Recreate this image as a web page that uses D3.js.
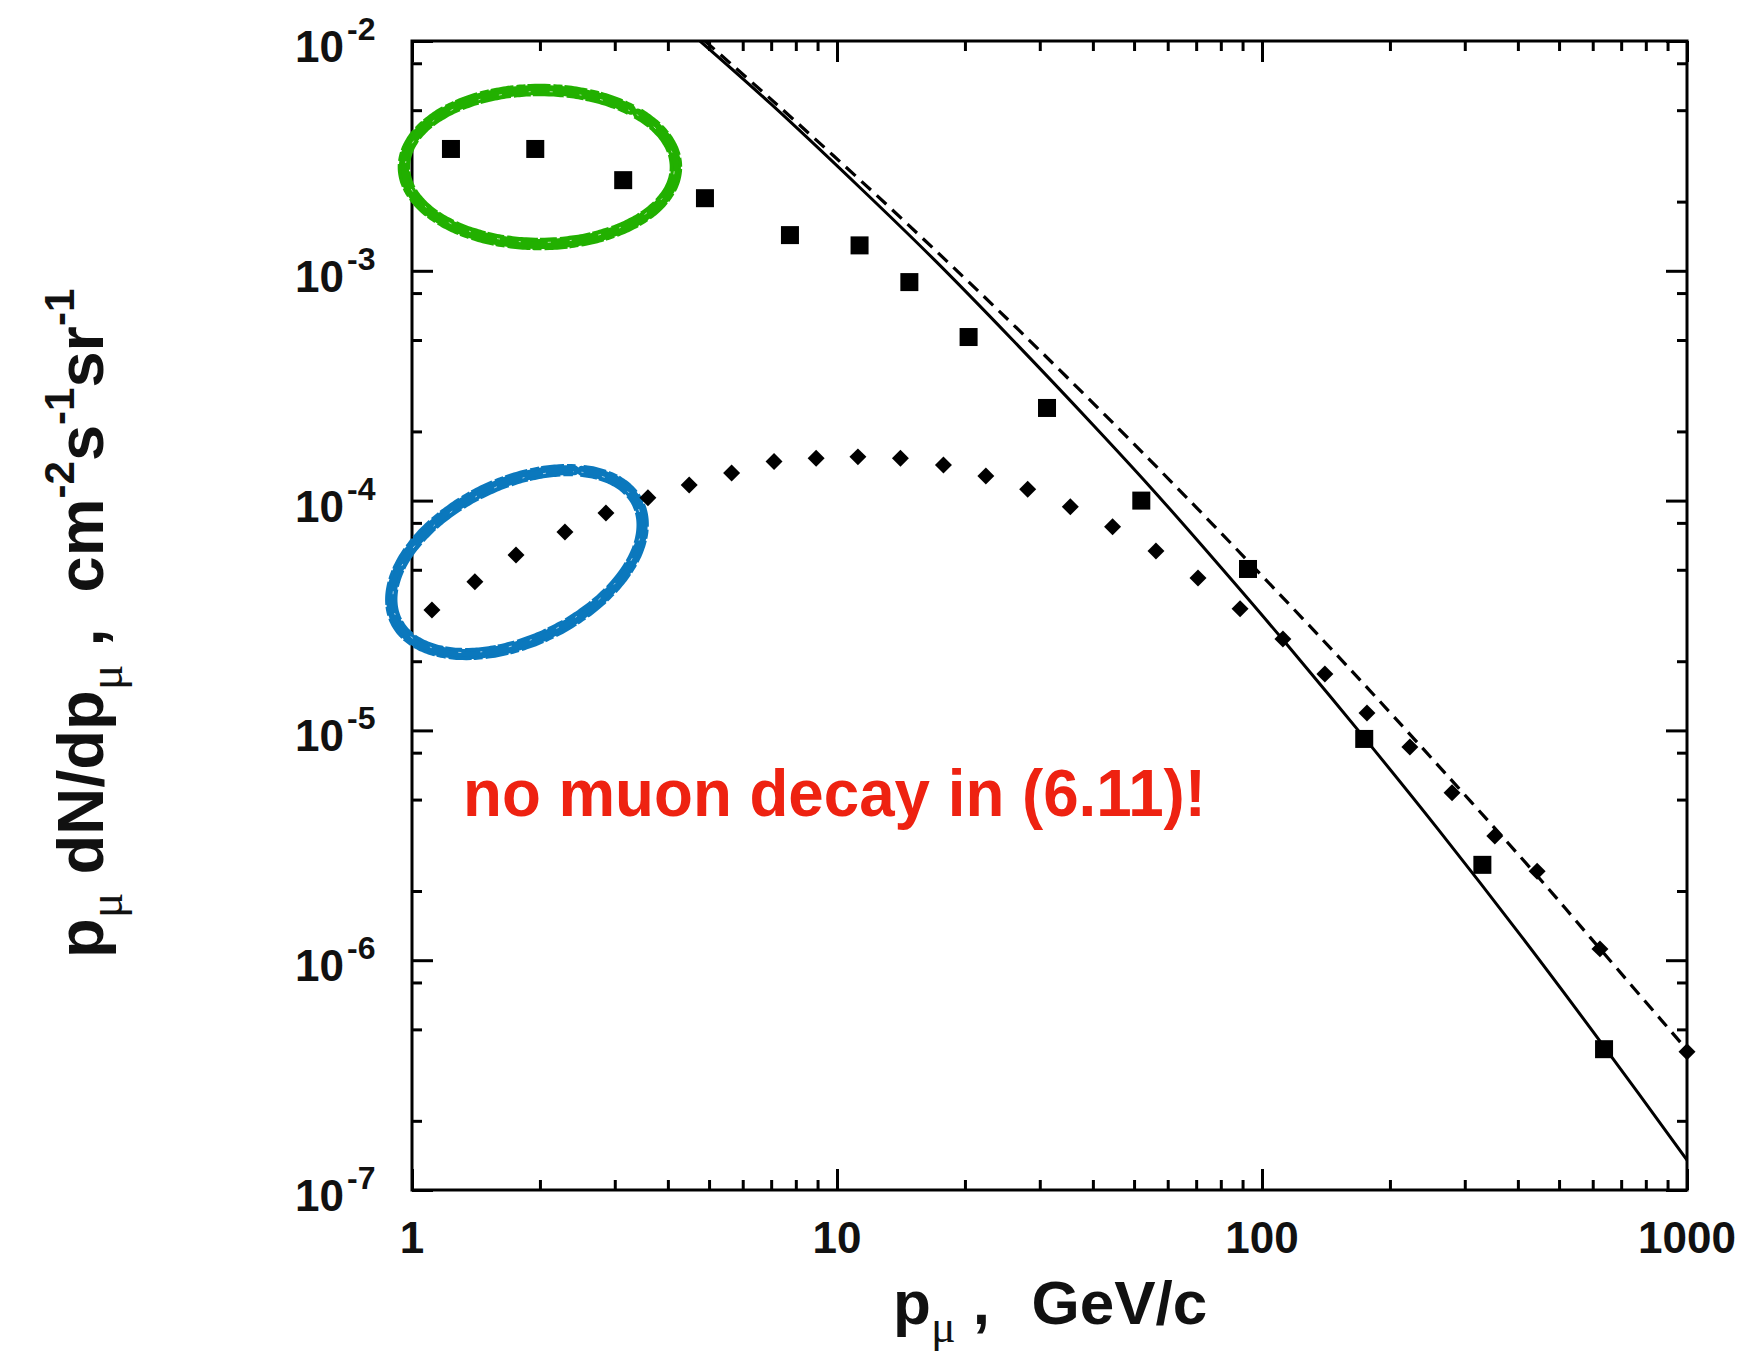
<!DOCTYPE html>
<html><head><meta charset="utf-8">
<script src="https://cdn.jsdelivr.net/npm/d3@7"></script>
<style>
body{margin:0;background:#fff}
svg text{font-family:"Liberation Sans",Arial,Helvetica,sans-serif}
</style>
</head><body>
<svg id="chart" width="1746" height="1351"></svg>
<script>
// ---------- data ----------
const xTickValues = [1, 10, 100, 1000];
const xTickLabels = ["1", "10", "100", "1000"];
const yTickValues = [1e-2, 1e-3, 1e-4, 1e-5, 1e-6, 1e-7];
const yTickExponents = ["-2", "-3", "-4", "-5", "-6", "-7"];

// measured spectrum (squares)
const squareP    = [1.235, 1.95, 3.14, 4.89, 7.75, 11.3, 14.8, 20.4, 31.2, 52.0, 92.7, 174, 330, 638];
const squareFlux = [3.39e-3, 3.39e-3, 2.48e-3, 2.07e-3, 1.43e-3, 1.29e-3, 8.93e-4, 5.15e-4, 2.53e-4, 1.0e-4, 5.04e-5, 9.18e-6, 2.6e-6, 4.1e-7];

// calculated spectrum (diamonds)
const diamondP    = [1.114, 1.406, 1.757, 2.29, 2.86, 3.59, 4.49, 5.65, 7.11, 8.93, 11.2, 14.1, 17.8, 22.4, 28.1, 35.4, 44.5, 56.3, 70.7, 88.8, 112, 140.6, 176.6, 222.8, 280, 353, 444, 624, 1000];
const diamondFlux = [3.34e-5, 4.43e-5, 5.8e-5, 7.3e-5, 8.83e-5, 1.03e-4, 1.17e-4, 1.32e-4, 1.48e-4, 1.53e-4, 1.55e-4, 1.53e-4, 1.43e-4, 1.28e-4, 1.12e-4, 9.4e-5, 7.7e-5, 6.04e-5, 4.6e-5, 3.38e-5, 2.5e-5, 1.76e-5, 1.19e-5, 8.47e-6, 5.35e-6, 3.47e-6, 2.44e-6, 1.12e-6, 4.0e-7];

// solid curve
const solidP    = [4.76, 7.0, 11.3, 17.0, 25.9, 40, 54.5, 80, 111.4, 172.8, 260, 409, 638, 1000];
const solidFlux = [1e-2, 5.31e-3, 2.31e-3, 1.11e-3, 5.0e-4, 2.14e-4, 1.15e-4, 5.13e-5, 2.51e-5, 9.44e-6, 3.70e-6, 1.26e-6, 4.21e-7, 1.35e-7];

// dashed curve
const dashedP    = [4.89, 7.0, 12.1, 20, 30, 54.5, 92.2, 150, 229, 444, 591, 1000];
const dashedFlux = [1e-2, 5.57e-3, 2.22e-3, 9.27e-4, 4.5e-4, 1.5e-4, 5.51e-5, 2.13e-5, 9.1e-6, 2.33e-6, 1.26e-6, 4.07e-7];

const annotationText = "no muon decay in (6.11)!";
// hand-drawn ellipse centres, in data coordinates
const greenCentre = [2.0, 2.83e-3];
const blueCentre  = [1.766, 5.4e-5];

// ---------- drawing ----------
const L = 412, R = 1687, T = 41, B = 1190;
const svg = d3.select("#chart");
const x = d3.scaleLog().domain([1, 1000]).range([L, R]);
const y = d3.scaleLog().domain([1e-7, 1e-2]).range([B, T]);

const xMinor = [];
for (let d = 1; d < 1000; d *= 10) for (let k = 2; k <= 9; k++) xMinor.push(d * k);
const yMinor = [];
for (let d = 1e-7; d < 1e-2 * 0.99; d *= 10) for (const k of [2, 5, 8]) yMinor.push(d * k);

function styleAxis(g) {
  g.select(".domain").remove();
  g.selectAll(".tick line").attr("stroke", "#000").attr("stroke-width", 3);
  g.selectAll(".tick text").remove();
}
const MAJ = 21, MIN = 10;
svg.append("g").attr("transform", `translate(0,${B})`).call(d3.axisBottom(x).tickValues(xTickValues).tickSize(-MAJ)).call(styleAxis);
svg.append("g").attr("transform", `translate(0,${B})`).call(d3.axisBottom(x).tickValues(xMinor).tickSize(-MIN)).call(styleAxis);
svg.append("g").attr("transform", `translate(0,${T})`).call(d3.axisTop(x).tickValues(xTickValues).tickSize(-MAJ)).call(styleAxis);
svg.append("g").attr("transform", `translate(0,${T})`).call(d3.axisTop(x).tickValues(xMinor).tickSize(-MIN)).call(styleAxis);
svg.append("g").attr("transform", `translate(${L},0)`).call(d3.axisLeft(y).tickValues(yTickValues).tickSize(-MAJ)).call(styleAxis);
svg.append("g").attr("transform", `translate(${L},0)`).call(d3.axisLeft(y).tickValues(yMinor).tickSize(-MIN)).call(styleAxis);
svg.append("g").attr("transform", `translate(${R},0)`).call(d3.axisRight(y).tickValues(yTickValues).tickSize(-MAJ)).call(styleAxis);
svg.append("g").attr("transform", `translate(${R},0)`).call(d3.axisRight(y).tickValues(yMinor).tickSize(-MIN)).call(styleAxis);

svg.append("rect").attr("x", L).attr("y", T).attr("width", R - L).attr("height", B - T)
  .attr("fill", "none").attr("stroke", "#000").attr("stroke-width", 3);

// tick labels
svg.append("g").selectAll("text").data(xTickValues).join("text")
  .attr("x", d => x(d)).attr("y", 1253).attr("text-anchor", "middle")
  .attr("font-size", 44).attr("font-weight", "bold").attr("fill", "#111")
  .text((d, i) => xTickLabels[i]);
const yl = svg.append("g").selectAll("g").data(yTickValues).join("g");
yl.append("text").attr("x", 344).attr("y", d => y(d) + 21).attr("text-anchor", "end")
  .attr("font-size", 44).attr("font-weight", "bold").attr("fill", "#111").text("10");
yl.append("text").attr("x", 347).attr("y", d => y(d) - 1).attr("text-anchor", "start")
  .attr("font-size", 32).attr("font-weight", "bold").attr("fill", "#111").text((d, i) => yTickExponents[i]);

// clip
svg.append("clipPath").attr("id", "plotclip").append("rect")
  .attr("x", L).attr("y", T).attr("width", R - L).attr("height", B - T);

const line = d3.line().x(d => x(d[0])).y(d => y(d[1])).curve(d3.curveCatmullRom);
svg.append("path").attr("clip-path", "url(#plotclip)")
  .attr("d", line(solidP.map((p, i) => [p, solidFlux[i]])))
  .attr("fill", "none").attr("stroke", "#000").attr("stroke-width", 3);
svg.append("path").attr("clip-path", "url(#plotclip)")
  .attr("d", line(dashedP.map((p, i) => [p, dashedFlux[i]])))
  .attr("fill", "none").attr("stroke", "#000").attr("stroke-width", 3.2).attr("stroke-dasharray", "13,8");

// hand-drawn ellipses
function ellipsePts(cx, cy, a, b, rotDeg, gapFrom, gapTo) {
  const pts = [], th = rotDeg * Math.PI / 180;
  for (let t = gapTo; t <= gapFrom + 360; t += 2) {
    const r = t * Math.PI / 180;
    const ex = a * Math.cos(r), ey = b * Math.sin(r);
    pts.push([cx + ex * Math.cos(th) - ey * Math.sin(th), cy + ex * Math.sin(th) + ey * Math.cos(th)]);
  }
  return pts;
}
const ell = d3.line().curve(d3.curveCatmullRom);
function sketchEllipse(cx, cy, a, b, rot, g0, g1, colour) {
  const g = svg.append("g");
  g.append("path").attr("d", ell(ellipsePts(cx, cy, a, b, rot, g0, g1)))
    .attr("fill", "none").attr("stroke", colour).attr("stroke-width", 10).attr("stroke-linecap", "round");
  g.append("path").attr("d", ell(ellipsePts(cx, cy, a + 4.5, b + 4.5, rot, g0, g1)))
    .attr("fill", "none").attr("stroke", colour).attr("stroke-width", 3.5).attr("stroke-dasharray", "23,3,9,2");
  g.append("path").attr("d", ell(ellipsePts(cx, cy, a - 4.5, b - 4.5, rot, g0, g1)))
    .attr("fill", "none").attr("stroke", colour).attr("stroke-width", 3.5).attr("stroke-dasharray", "17,2,31,3");
  g.append("path").attr("d", ell(ellipsePts(cx, cy, a - 1.5, b - 1.5, rot, g0, g1)))
    .attr("fill", "none").attr("stroke", "#fff").attr("stroke-width", 0.8).attr("stroke-dasharray", "2,19,3,27").attr("opacity", 0.8);
}
sketchEllipse(x(greenCentre[0]), y(greenCentre[1]), 136, 77, 0, -47, -44, "#22b000");
sketchEllipse(x(blueCentre[0]), y(blueCentre[1]), 134.5, 78.5, -26, -46, -43, "#0b78bd");

// markers
svg.append("g").selectAll("rect").data(squareP).join("rect")
  .attr("x", d => x(d) - 9).attr("y", (d, i) => y(squareFlux[i]) - 9)
  .attr("width", 18).attr("height", 18).attr("fill", "#000");
const diamond = d3.symbol().type(d3.symbolSquare).size(144);
svg.append("g").selectAll("path").data(diamondP).join("path")
  .attr("d", diamond)
  .attr("transform", (d, i) => `translate(${x(d)},${y(diamondFlux[i])}) rotate(45)`)
  .attr("fill", "#000");

// annotation
svg.append("text").attr("x", 463).attr("y", 816).attr("font-size", 66).attr("font-weight", "bold")
  .attr("fill", "#ee2211").attr("textLength", 743).attr("lengthAdjust", "spacingAndGlyphs").text(annotationText);

// x title
const xt = svg.append("text").attr("x", 893).attr("y", 1324).attr("font-size", 62).attr("font-weight", "bold")
  .attr("fill", "#111").style("white-space", "pre");
xt.append("tspan").text("p");
xt.append("tspan").attr("font-family", "'Liberation Serif','DejaVu Serif',serif").attr("font-weight", "normal")
  .attr("font-size", 46).attr("dy", 18).text("μ");
xt.append("tspan").attr("dy", -18).text(" ,");
xt.append("tspan").attr("dx", 7).text("  GeV/c");

// y title
const yt = svg.append("text").attr("transform", "translate(103,958) rotate(-90)")
  .attr("font-size", 65).attr("font-weight", "bold").attr("fill", "#111").style("white-space", "pre");
const sub = (t) => yt.append("tspan").attr("font-family", "'Liberation Serif','DejaVu Serif',serif")
  .attr("font-weight", "normal").attr("font-size", 48).attr("dy", 19).text(t);
const sup = (t) => yt.append("tspan").attr("font-size", 42).attr("dy", -29).text(t);
yt.append("tspan").text("p");
sub("μ");
yt.append("tspan").attr("dy", -19).text(" dN/dp");
sub("μ");
yt.append("tspan").attr("dy", -19).text(" ,  cm");
sup("-2");
yt.append("tspan").attr("dy", 29).text("s");
sup("-1");
yt.append("tspan").attr("dy", 29).text("sr");
sup("-1");
</script>
</body></html>
